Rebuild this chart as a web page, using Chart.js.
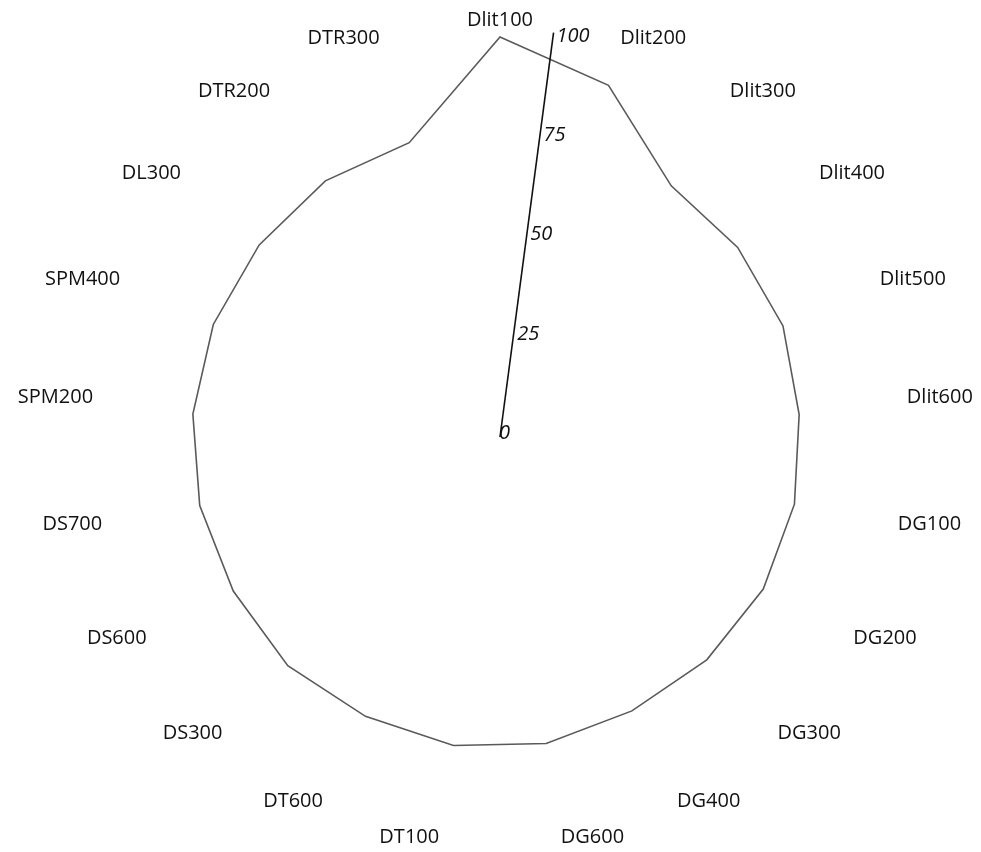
<!DOCTYPE html>
<html>
<head>
<meta charset="utf-8">
<title>Radar</title>
<script src="https://cdn.jsdelivr.net/npm/chart.js@4.4.1/dist/chart.umd.min.js"></script>
<style>
    html, body { margin: 0; padding: 0; background: #ffffff; }
    #wrap { width: 981px; height: 852px; position: relative; }
</style>
</head>
<body>
<div id="wrap"><canvas id="radarChart"></canvas></div>
<script>
// Categories clockwise from the top
const categories = [
    'Dlit100', 'Dlit200', 'Dlit300', 'Dlit400', 'Dlit500', 'Dlit600',
    'DG100', 'DG200', 'DG300', 'DG400', 'DG600',
    'DT100', 'DT600', 'DS300', 'DS600', 'DS700',
    'SPM200', 'SPM400', 'DL300', 'DTR200', 'DTR300'
];

// Values
const scores = [
    100, 92, 76, 76, 76, 75,
    75.5, 76, 76, 76, 77.5,
    78, 77.5, 78, 77, 77,
    77, 77, 77, 77.5, 77
];

const tickValues = [0, 25, 50, 75, 100];

// The value axis sits a bit clockwise of the first category
const AXIS_INDEX = 0.44;
const LABEL_GAP = 8;
const FONT = '"Open Sans", "Noto Sans", sans-serif';

// Slanted value axis with italic tick labels
const slantedAxis = {
    id: 'slantedAxis',
    afterDatasetsDraw(chart) {
        const scale = chart.scales.r;
        const ctx = chart.ctx;
        const start = scale.getPointPositionForValue(AXIS_INDEX, scale.min);
        const end = scale.getPointPositionForValue(AXIS_INDEX, scale.max + 2);

        ctx.save();
        ctx.strokeStyle = '#111111';
        ctx.lineWidth = 1.6;
        ctx.beginPath();
        ctx.moveTo(start.x, start.y);
        ctx.lineTo(end.x, end.y);
        ctx.stroke();

        ctx.fillStyle = '#111111';
        ctx.font = 'italic 20px ' + FONT;
        ctx.textAlign = 'left';
        ctx.textBaseline = 'middle';
        tickValues.forEach(v => {
            const p = scale.getPointPositionForValue(AXIS_INDEX, v);
            const dx = v === 0 ? -1 : 4;
            ctx.fillText(String(v), p.x + dx, p.y - 4);
        });
        ctx.restore();
    }
};

// Category labels round the outside: lower ones sit centred on the ring
const categoryLabels = {
    id: 'categoryLabels',
    afterDraw(chart) {
        const scale = chart.scales.r;
        const ctx = chart.ctx;
        ctx.save();
        ctx.fillStyle = '#111111';
        ctx.font = '20px ' + FONT;
        ctx.textBaseline = 'middle';
        chart.data.labels.forEach((text, i) => {
            const deg = scale.getIndexAngle(i) * 180 / Math.PI;
            const p = scale.getPointPosition(i, scale.drawingArea + LABEL_GAP);
            if (deg < 0.5 || Math.abs(deg - 180) < 0.5) ctx.textAlign = 'center';
            else ctx.textAlign = deg < 180 ? 'left' : 'right';
            const upper = deg < 90 || deg > 270;
            ctx.fillText(text, p.x, upper ? p.y - 9 : p.y - 3);
        });
        ctx.restore();
    }
};

const ctx = document.getElementById('radarChart').getContext('2d');
new Chart(ctx, {
    type: 'radar',
    data: {
        labels: categories,
        datasets: [{
            data: scores,
            borderColor: '#5a5a5a',
            borderWidth: 1.6,
            backgroundColor: 'rgba(0,0,0,0)',
            fill: false,
            pointRadius: 0,
            pointHoverRadius: 0,
            tension: 0
        }]
    },
    options: {
        responsive: true,
        maintainAspectRatio: false,
        animation: false,
        layout: {
            padding: { top: 37, bottom: 15, left: 100, right: 81 }
        },
        plugins: {
            legend: { display: false },
            tooltip: { enabled: false }
        },
        scales: {
            r: {
                min: 0,
                max: 100,
                ticks: { display: false, stepSize: 25 },
                grid: { display: false },
                angleLines: { display: false },
                pointLabels: { display: false }
            }
        }
    },
    plugins: [slantedAxis, categoryLabels]
});
</script>
</body>
</html>
